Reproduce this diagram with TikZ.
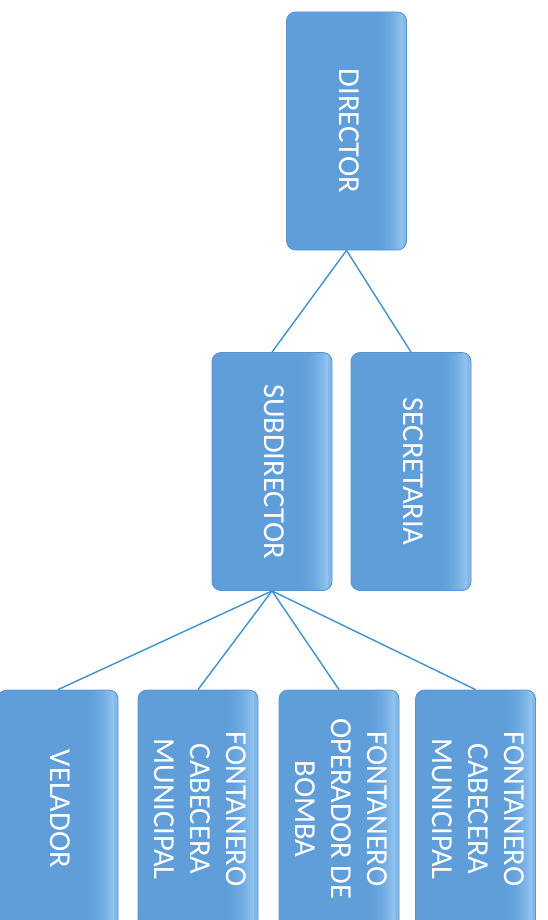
\documentclass[tikz,border=0pt]{standalone}
\usepackage{fontspec}
\setmainfont{Carlito}
\newfontfamily\boxfont{Carlito}
\definecolor{boxfill}{RGB}{96,158,218}
\definecolor{boxlight}{RGB}{145,196,238}
\definecolor{boxedge}{RGB}{84,148,208}
\definecolor{linkcol}{RGB}{65,145,205}
\newcommand{\boxtext}[1]{\rotatebox{-90}{\begin{tabular}{@{}c@{}}#1\end{tabular}}}
\tikzset{
  orgbox/.style={fill=boxfill, draw=boxedge, line width=0.8pt, rounded corners=9pt,
    minimum width=120pt, minimum height=238pt, inner sep=0pt, text=white,
    font=\boxfont\fontsize{30.5}{36}\selectfont,
    path picture={
      \foreach \i in {1,...,14}{
        \pgfmathsetmacro{\pc}{\i*\i/2}
        \fill[sharp corners, boxlight!\pc!boxfill]
          ([xshift={-32pt+2*\i pt-2pt}]path picture bounding box.north east) rectangle
          ([xshift={-32pt+2*\i pt+0.3pt}]path picture bounding box.south east);
      }
      \fill[sharp corners, boxlight!70!boxfill]
        ([xshift=-4pt]path picture bounding box.north east) rectangle
        (path picture bounding box.south east);}},
  link/.style={draw=linkcol, line width=1.4pt}
}
\begin{document}
\begin{tikzpicture}[x=1pt,y=1pt]
\useasboundingbox (0,0) rectangle (548,-920);
\clip (0,0) rectangle (548,-920);
\node[orgbox] (dir) at (346.5,-131) {\boxtext{DIRECTOR}};
\node[orgbox] (sub) at (272,-471.5) {\boxtext{SUBDIRECTOR}};
\node[orgbox] (sec) at (411,-471.5) {\boxtext{SECRETARIA}};
\node[orgbox] (vel) at (58,-809) {\boxtext{VELADOR}};
\node[orgbox] (fc1) at (198,-809) {\boxtext{FONTANERO\\CABECERA\\MUNICIPAL}};
\node[orgbox] (fob) at (339,-809) {\boxtext{FONTANERO\\OPERADOR DE\\BOMBA}};
\node[orgbox] (fc2) at (475.5,-809) {\boxtext{FONTANERO\\CABECERA\\MUNICIPAL}};
\draw[link] (dir.south) -- (sub.north);
\draw[link] (dir.south) -- (sec.north);
\draw[link] (sub.south) -- (vel.north);
\draw[link] (sub.south) -- (fc1.north);
\draw[link] (sub.south) -- (fob.north);
\draw[link] (sub.south) -- (fc2.north);
\end{tikzpicture}
\end{document}
